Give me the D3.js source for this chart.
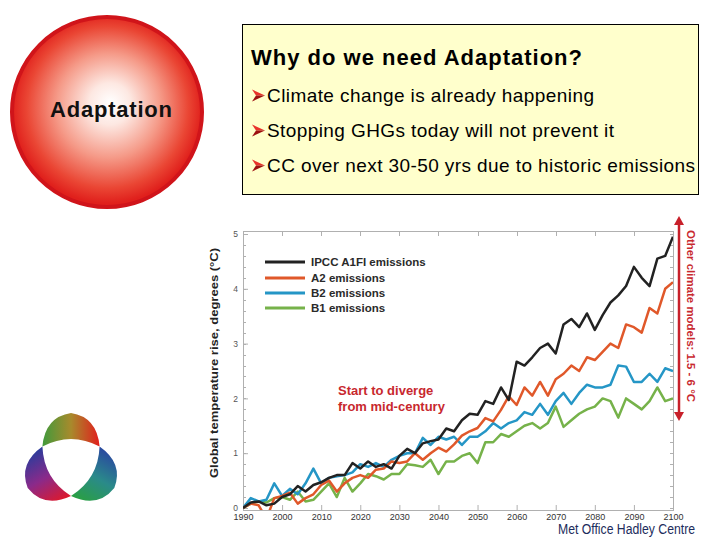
<!DOCTYPE html>
<html>
<head>
<meta charset="utf-8">
<script src="https://cdn.jsdelivr.net/npm/d3@7/dist/d3.min.js"></script>
<style>
  html, body { margin: 0; padding: 0; background: #ffffff; }
  svg { display: block; font-family: Arial, "Liberation Sans", Helvetica, sans-serif; }
</style>
</head>
<body>
<svg id="chart" width="720" height="540"></svg>
<script>
// ---------------- data ----------------
const years = [
  1990, 1992, 1994, 1996, 1998, 2000, 2002, 2004, 2006, 2008,
  2010, 2012, 2014, 2016, 2018, 2020, 2022, 2024, 2026, 2028,
  2030, 2032, 2034, 2036, 2038, 2040, 2042, 2044, 2046, 2048,
  2050, 2052, 2054, 2056, 2058, 2060, 2062, 2064, 2066, 2068,
  2070, 2072, 2074, 2076, 2078, 2080, 2082, 2084, 2086, 2088,
  2090, 2092, 2094, 2096, 2098, 2100
];
const a1fi = [
  0.00, 0.10, 0.12, 0.05, 0.08, 0.20, 0.25, 0.40, 0.30, 0.42,
  0.47, 0.55, 0.60, 0.60, 0.82, 0.72, 0.85, 0.75, 0.80, 0.72,
  0.95, 1.08, 1.00, 1.18, 1.22, 1.25, 1.45, 1.40, 1.60, 1.72,
  1.70, 1.95, 1.90, 2.20, 1.97, 2.67, 2.60, 2.75, 2.92, 3.00,
  2.82, 3.35, 3.45, 3.30, 3.55, 3.25, 3.52, 3.75, 3.88, 4.05,
  4.40, 4.20, 4.05, 4.55, 4.60, 4.95
];
const a2 = [
  0.00, 0.08, 0.05, -0.20, 0.18, 0.22, 0.28, 0.08, 0.18, 0.25,
  0.42, 0.50, 0.30, 0.45, 0.55, 0.60, 0.55, 0.70, 0.72, 0.85,
  0.82, 0.85, 1.00, 0.88, 1.00, 1.10, 1.03, 1.16, 1.32, 1.40,
  1.46, 1.64, 1.58, 1.79, 2.04, 1.88, 2.20, 2.05, 2.30, 2.05,
  2.35, 2.45, 2.60, 2.50, 2.75, 2.70, 2.85, 3.00, 2.92, 3.35,
  3.30, 3.20, 3.65, 3.55, 4.00, 4.12
];
const b2 = [
  0.00, 0.18, 0.12, 0.15, 0.45, 0.22, 0.35, 0.25, 0.45, 0.72,
  0.45, 0.55, 0.58, 0.60, 0.65, 0.80, 0.75, 0.82, 0.75, 0.88,
  0.95, 1.00, 1.00, 1.28, 1.15, 1.30, 1.25, 1.30, 1.15, 1.30,
  1.30, 1.40, 1.55, 1.45, 1.55, 1.60, 1.75, 1.70, 1.90, 1.70,
  1.95, 2.10, 1.90, 2.10, 2.25, 2.20, 2.20, 2.25, 2.60, 2.58,
  2.30, 2.30, 2.45, 2.30, 2.55, 2.50
];
const b1 = [
  0.00, 0.08, 0.12, 0.10, 0.18, 0.20, 0.15, 0.30, 0.12, 0.15,
  0.30, 0.45, 0.20, 0.55, 0.30, 0.45, 0.62, 0.58, 0.52, 0.62,
  0.62, 0.80, 0.78, 0.75, 0.88, 0.62, 0.85, 0.85, 0.95, 1.00,
  0.82, 1.20, 1.20, 1.35, 1.30, 1.40, 1.50, 1.55, 1.45, 1.55,
  1.85, 1.48, 1.60, 1.72, 1.80, 1.85, 2.00, 1.95, 1.65, 2.00,
  1.90, 1.80, 1.95, 2.20, 1.95, 2.00
];
const seriesNames = ["IPCC A1FI emissions", "A2 emissions", "B2 emissions", "B1 emissions"];
const seriesValues = [a1fi, a2, b2, b1];
const seriesColors = ["#222222", "#e0582a", "#2596c6", "#76b24a"];
const xTicks = [1990, 2000, 2010, 2020, 2030, 2040, 2050, 2060, 2070, 2080, 2090, 2100];
const yTicks = [0, 1, 2, 3, 4, 5];
const yMinorTicks = d3.range(0, 5.01, 0.2);

const titleText = "Why do we need Adaptation?";
const bulletTexts = [
  "Climate change is already happening",
  "Stopping GHGs today will not prevent it",
  "CC over next 30-50 yrs due to historic emissions"
];

// ---------------- layout ----------------
const svg = d3.select("#chart");
const defs = svg.append("defs");

// ---- red circle "Adaptation"
const rg = defs.append("radialGradient").attr("id", "circGrad")
  .attr("cx", "0.5").attr("cy", "0.48").attr("r", "0.5").attr("fx", "0.52").attr("fy", "0.45");
[[0, "#ffffff"], [0.22, "#fde8e2"], [0.55, "#f59a88"], [0.85, "#ea4634"], [1, "#e0201c"]]
  .forEach(([o, c]) => rg.append("stop").attr("offset", o).attr("stop-color", c));
svg.append("circle").attr("cx", 107).attr("cy", 112).attr("r", 95)
  .attr("fill", "url(#circGrad)").attr("stroke", "#d0141a").attr("stroke-width", 4);
svg.append("text").attr("x", 111).attr("y", 117).attr("text-anchor", "middle")
  .attr("font-size", 22).attr("font-weight", "bold").attr("fill", "#111")
  .attr("textLength", 122).attr("lengthAdjust", "spacing")
  .text("Adaptation");

// ---- yellow text box
svg.append("rect").attr("x", 242.5).attr("y", 24.5).attr("width", 456).attr("height", 170)
  .attr("fill", "#ffffcc").attr("stroke", "#000").attr("stroke-width", 1);
svg.append("text").attr("x", 251).attr("y", 65).attr("font-size", 22).attr("font-weight", "bold")
  .attr("fill", "#000").attr("textLength", 331).attr("lengthAdjust", "spacing").text(titleText);
const bulletBase = [101.5, 136.5, 171.5];
const bulletWidths = [327, 347, 428];
bulletTexts.forEach((t, i) => {
  const by = bulletBase[i];
  const g = svg.append("g").attr("transform", `translate(252,${by - 12})`);
  g.append("path").attr("d", "M0,0 L13,6 L4,6 Z").attr("fill", "#e8322a");
  g.append("path").attr("d", "M4,6 L13,6 L0,12 Z").attr("fill", "#9c1010");
  svg.append("text").attr("x", 267).attr("y", by).attr("font-size", 19).attr("fill", "#000")
    .attr("textLength", bulletWidths[i]).attr("lengthAdjust", "spacing").text(t);
});

// ---- trefoil logo
const lobeGrads = [
  ["lobeTop", ["#3f9a3c", "#a88a2c", "#e21c1c"]],
  ["lobeLeft", ["#e0182a", "#8a2a8a", "#2a3c9c"]],
  ["lobeRight", ["#2a48a0", "#2a8a8a", "#2aa040"]]
];
lobeGrads.forEach(([id, cols]) => {
  const lg = defs.append("linearGradient").attr("id", id)
    .attr("gradientUnits", "userSpaceOnUse").attr("x1", -29).attr("y1", 0).attr("x2", 29).attr("y2", 0);
  cols.forEach((c, k) => lg.append("stop").attr("offset", k / (cols.length - 1)).attr("stop-color", c));
});
const lobePath = "M-28.6,-16.5 Q-26,-46 0,-50 Q26,-46 28.6,-16.5 Q0,-31.5 -28.6,-16.5 Z";
[[0, "lobeTop"], [240, "lobeLeft"], [120, "lobeRight"]].forEach(([rot, id]) => {
  svg.append("path").attr("d", lobePath)
    .attr("transform", `translate(71,463) rotate(${rot})`)
    .attr("fill", `url(#${id})`);
});

// ---- chart
const x = d3.scaleLinear().domain([1990, 2100]).range([243, 673]);
const y = d3.scaleLinear().domain([0, 5]).range([508, 234]);
const fx0 = 243, fx1 = 673, fy0 = 231, fy1 = 510;

defs.append("clipPath").attr("id", "plotClip").append("rect")
  .attr("x", fx0).attr("y", fy0).attr("width", fx1 - fx0).attr("height", fy1 - fy0);

const frameColor = "#b0b0b0";
svg.append("rect").attr("x", fx0 + 0.5).attr("y", fy0 + 0.5).attr("width", fx1 - fx0).attr("height", fy1 - fy0)
  .attr("fill", "#fff").attr("stroke", frameColor).attr("stroke-width", 1);

// minor ticks left/right
const minorG = svg.append("g").attr("stroke", frameColor).attr("stroke-width", 1);
yMinorTicks.forEach(v => {
  const yy = Math.round(y(v)) + 0.5;
  minorG.append("line").attr("x1", fx0).attr("x2", fx0 + 3).attr("y1", yy).attr("y2", yy);
  minorG.append("line").attr("x1", fx1 - 3).attr("x2", fx1).attr("y1", yy).attr("y2", yy);
});
// top ticks
xTicks.forEach(v => {
  const xx = Math.round(x(v)) + 0.5;
  minorG.append("line").attr("x1", xx).attr("x2", xx).attr("y1", fy0).attr("y2", fy0 + 5);
});

// bottom axis
const xAxis = svg.append("g").attr("transform", `translate(0,${fy1})`)
  .call(d3.axisBottom(x).tickValues(xTicks).tickFormat(d3.format("d")).tickSize(-5).tickPadding(4));
xAxis.select(".domain").remove();
xAxis.selectAll(".tick line").attr("stroke", frameColor);
xAxis.selectAll("text").attr("font-size", 9).attr("fill", "#333")
  .attr("font-family", "Arial, 'Liberation Sans', sans-serif");

// left axis
const yAxis = svg.append("g").attr("transform", `translate(${fx0},0)`)
  .call(d3.axisLeft(y).tickValues(yTicks).tickFormat(d3.format("d")).tickSize(-5).tickPadding(5));
yAxis.select(".domain").remove();
yAxis.selectAll(".tick line").attr("stroke", frameColor);
yAxis.selectAll("text").attr("font-size", 8.5).attr("fill", "#555")
  .attr("font-family", "Arial, 'Liberation Sans', sans-serif");

// lines
const line = d3.line().x((d, i) => x(years[i])).y(d => y(d));
const linesG = svg.append("g").attr("clip-path", "url(#plotClip)");
[3, 2, 1, 0].forEach(k => {
  linesG.append("path").datum(seriesValues[k]).attr("d", line)
    .attr("fill", "none").attr("stroke", seriesColors[k]).attr("stroke-width", 2.5)
    .attr("stroke-linejoin", "round");
});

// legend
const legRows = [262, 278, 293, 308];
seriesNames.forEach((n, i) => {
  svg.append("line").attr("x1", 265).attr("x2", 305).attr("y1", legRows[i]).attr("y2", legRows[i])
    .attr("stroke", seriesColors[i]).attr("stroke-width", 2.8);
  svg.append("text").attr("x", 311).attr("y", legRows[i] + 4).attr("font-size", 11.5)
    .attr("font-weight", "bold").attr("fill", "#2a2a2a").text(n);
});

// y axis title
svg.append("text").attr("transform", "translate(218,363) rotate(-90)").attr("text-anchor", "middle")
  .attr("font-size", 11.5).attr("font-weight", "bold").attr("fill", "#222")
  .attr("textLength", 230).attr("lengthAdjust", "spacingAndGlyphs")
  .text("Global temperature rise, degrees (°C)");

// annotation
const annColor = "#c8282e";
svg.append("text").attr("x", 338).attr("y", 395).attr("font-size", 13).attr("font-weight", "bold")
  .attr("fill", annColor).text("Start to diverge");
svg.append("text").attr("x", 338).attr("y", 411).attr("font-size", 13).attr("font-weight", "bold")
  .attr("fill", annColor).text("from mid-century");

// red double arrow
const arrowColor = "#c8202a";
svg.append("line").attr("x1", 679).attr("x2", 679).attr("y1", 222).attr("y2", 414)
  .attr("stroke", arrowColor).attr("stroke-width", 2.5);
svg.append("path").attr("d", "M679,216 L684,225 L674,225 Z").attr("fill", arrowColor);
svg.append("path").attr("d", "M679,421 L684,412 L674,412 Z").attr("fill", arrowColor);
svg.append("text").attr("transform", "translate(687,316) rotate(90)").attr("text-anchor", "middle")
  .attr("font-size", 10.5).attr("font-weight", "bold").attr("fill", annColor)
  .attr("textLength", 172).attr("lengthAdjust", "spacingAndGlyphs")
  .text("Other climate models: 1.5 - 6 °C");

// credit
svg.append("text").attr("x", 558).attr("y", 534).attr("font-size", 14).attr("fill", "#1c2c5c")
  .attr("font-family", "'Liberation Sans Narrow', Arial, sans-serif")
  .attr("textLength", 137).attr("lengthAdjust", "spacingAndGlyphs")
  .text("Met Office Hadley Centre");
</script>
</body>
</html>
